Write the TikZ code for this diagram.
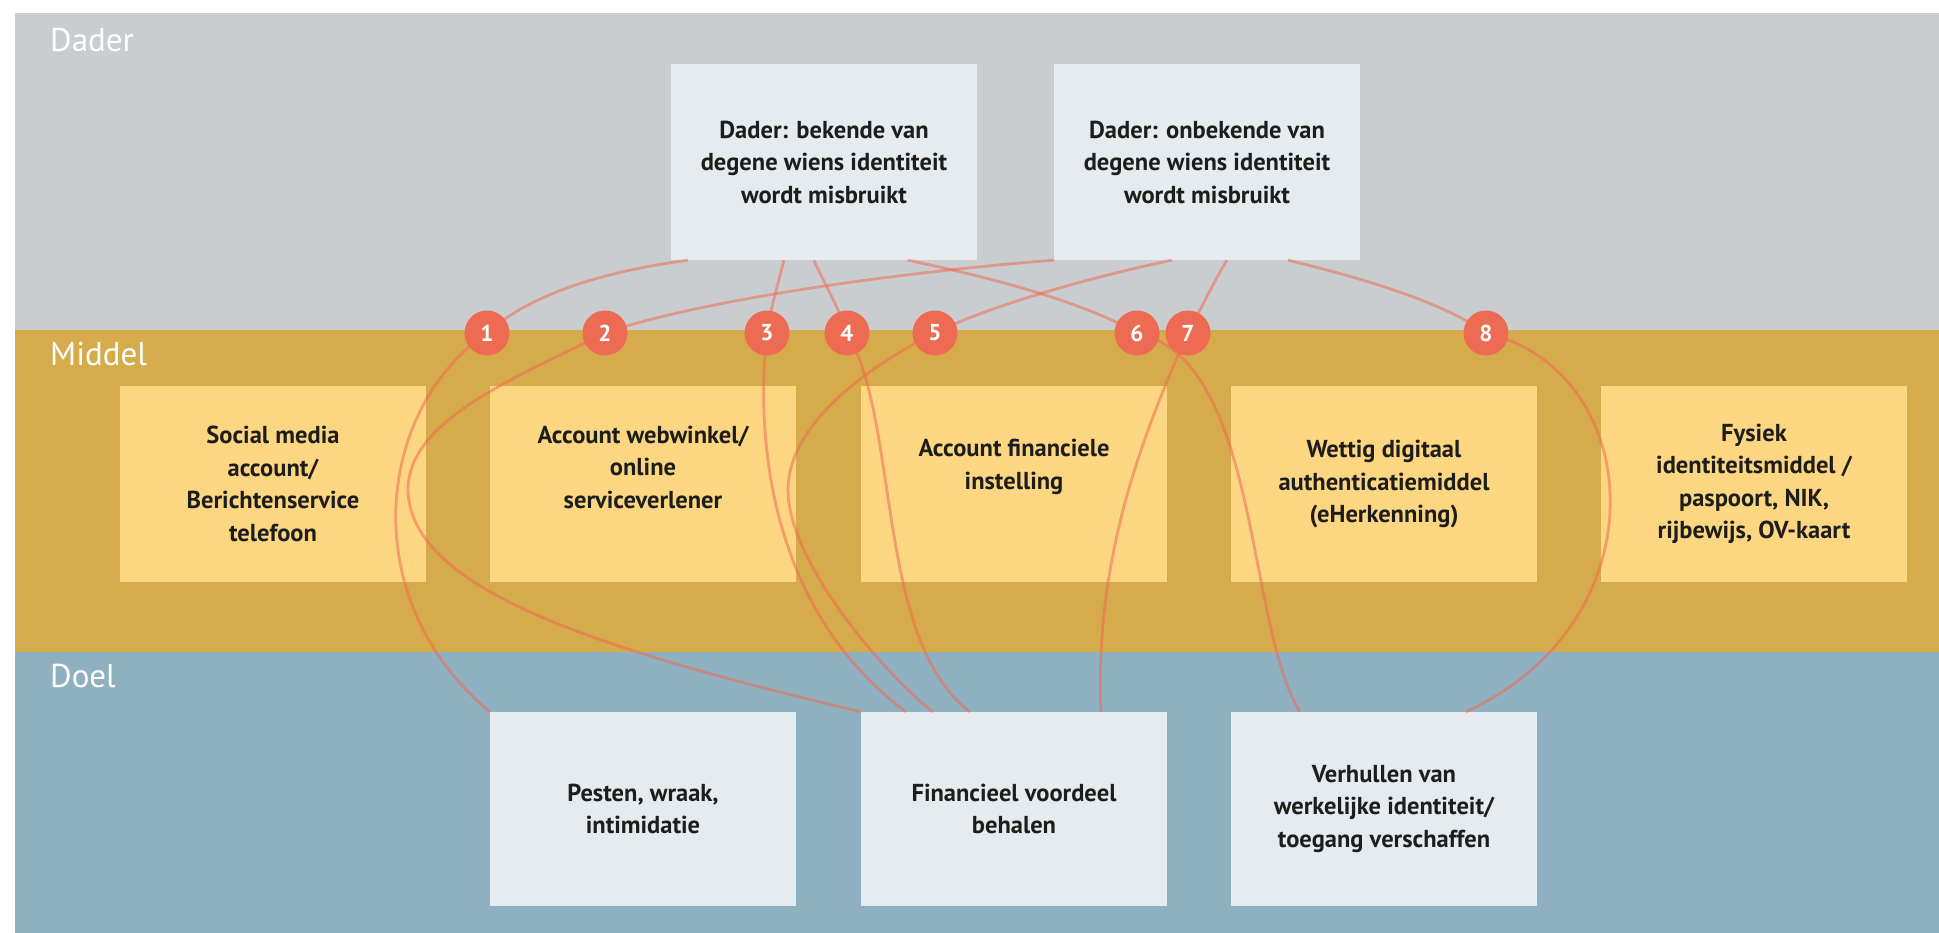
\documentclass[tikz,border=0pt]{standalone}
\usepackage{fontspec}
\setmainfont{PT Sans}
\definecolor{bandgrey}{HTML}{C9CDD0}
\definecolor{bandgold}{HTML}{D6AB4C}
\definecolor{bandblue}{HTML}{8FB0C1}
\definecolor{boxlight}{HTML}{E6EBEF}
\definecolor{boxyellow}{HTML}{FDD682}
\definecolor{coral}{HTML}{EE6B53}
\definecolor{inkdark}{HTML}{1D1D1B}
\pgfdeclarelayer{front}
\pgfsetlayers{main,front}
\newcommand{\boxfont}{\fontsize{24.5}{32.5}\selectfont\bfseries}
\newcommand{\lblfont}{\fontsize{33}{40}\selectfont}
\newcommand{\badgefont}{\fontsize{23}{23}\selectfont\bfseries}
\begin{document}
\begin{tikzpicture}[x=1pt,y=-1pt,
  lightbox/.style={fill=boxlight, minimum width=306pt, minimum height=196pt, inner sep=0pt, text=inkdark, font=\boxfont, align=center},
  goldbox/.style={fill=boxyellow, minimum width=306pt, minimum height=196pt, inner sep=0pt, text=inkdark, font=\boxfont, align=center},
  boxtext/.style={inner sep=0pt, text=inkdark, font=\boxfont, align=center},
  badge/.style={circle, fill=coral, minimum size=45pt, inner sep=0pt, text=white, font=\badgefont},
  link/.style={draw=coral, draw opacity=0.55, line width=2.8pt},
  bandlabel/.style={anchor=base west, text=white, font=\lblfont, inner sep=0pt}]
\useasboundingbox (0,0) rectangle (1939,933);
% bands
\fill[bandgrey] (15,13) rectangle (1939,330);
\fill[bandgold] (15,330) rectangle (1939,652);
\fill[bandblue] (15,652) rectangle (1939,933);
\node[bandlabel] (ldader) at (50,52) {Dader};
\node[bandlabel] (lmiddel) at (50,366) {Middel};
\node[bandlabel] (ldoel) at (50,687) {Doel};
% dader boxes
\node[lightbox] (d1) at (824,162) {Dader: bekende van\\degene wiens identiteit\\wordt misbruikt};
\node[lightbox] (d2) at (1207,162) {Dader: onbekende van\\degene wiens identiteit\\wordt misbruikt};
% middel boxes
\node[goldbox] (m1) at (273,484) {Social media\\account/\\Berichtenservice\\telefoon};
\node[goldbox] (m2) at (643,484) {};
\node[boxtext] (m2t) at (643,467) {Account webwinkel/\\online\\serviceverlener};
\node[goldbox] (m3) at (1014,484) {};
\node[boxtext] (m3t) at (1014,467) {Account financiele\\instelling};
\node[goldbox] (m4) at (1384,484) {Wettig digitaal\\authenticatiemiddel\\(eHerkenning)};
\node[goldbox] (m5) at (1754,484) {Fysiek\\identiteitsmiddel /\\paspoort, NIK,\\rijbewijs, OV-kaart};
% doel boxes
\node[lightbox, minimum height=194pt] (g1) at (643,809) {Pesten, wraak,\\intimidatie};
\node[lightbox, minimum height=194pt] (g2) at (1014,809) {Financieel voordeel\\behalen};
\node[lightbox, minimum height=194pt] (g3) at (1384,809) {Verhullen van\\werkelijke identiteit/\\toegang verschaffen};
% badges
\begin{pgfonlayer}{front}
\node[badge] (b1) at (487,333) {1};
\node[badge] (b2) at (605,333) {2};
\node[badge] (b3) at (767,333) {3};
\node[badge] (b4) at (847,333) {4};
\node[badge] (b5) at (935,333) {5};
\node[badge] (b6) at (1137,333) {6};
\node[badge] (b7) at (1188,333) {7};
\node[badge] (b8) at (1486,333) {8};
\end{pgfonlayer}
% connectors
\draw[link] ([xshift=17pt]d1.south west) .. controls (615,270) and (535,290) .. (b1.center)
  .. controls (375,410) and (355,600) .. (g1.north west);
\draw[link] (d2.south west) .. controls (900,272) and (700,300) .. (b2.center)
  .. controls (515,378) and (408,420) .. (408,490)
  .. controls (410,590) and (600,650) .. (g2.north west);
\draw[link] ([xshift=113pt]d1.south west) .. controls (778,285) and (770,310) .. (b3.center)
  .. controls (755,440) and (770,610) .. ([xshift=45pt]g2.north west);
\draw[link] ([xshift=143pt]d1.south west) .. controls (825,285) and (840,310) .. (b4.center)
  .. controls (900,420) and (875,640) .. ([xshift=109pt]g2.north west);
\draw[link] ([xshift=118pt]d2.south west) .. controls (1100,275) and (990,305) .. (b5.center)
  .. controls (855,373) and (788,430) .. (788,490)
  .. controls (788,560) and (880,670) .. ([xshift=72pt]g2.north west);
\draw[link] ([xshift=237pt]d1.south west) .. controls (980,275) and (1080,300) .. (b6.center)
  .. controls (1260,360) and (1245,620) .. ([xshift=69pt]g3.north west);
\draw[link] ([xshift=173pt]d2.south west) .. controls (1215,280) and (1200,310) .. (b7.center)
  .. controls (1140,440) and (1095,560) .. ([xshift=240pt]g2.north west);
\draw[link] ([xshift=234pt]d2.south west) .. controls (1350,275) and (1440,300) .. (b8.center)
  .. controls (1645,370) and (1665,620) .. ([xshift=235pt]g3.north west);
\end{tikzpicture}
\end{document}
